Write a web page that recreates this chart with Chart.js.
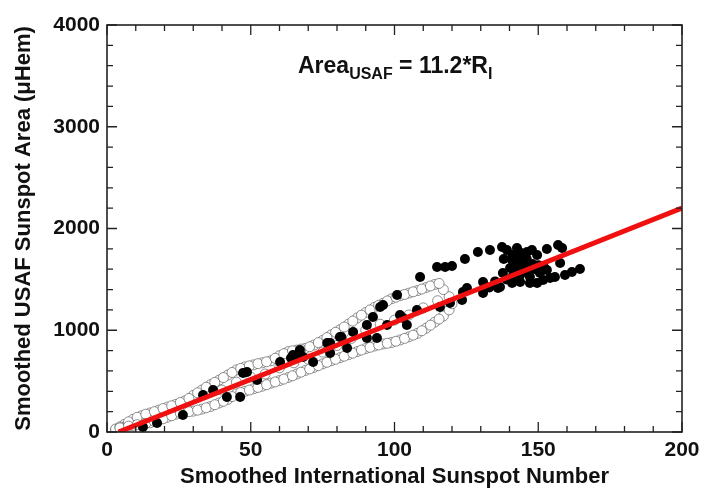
<!DOCTYPE html>
<html><head><meta charset="utf-8">
<script src="https://cdn.jsdelivr.net/npm/chart.js@4.4.1/dist/chart.umd.min.js"></script>
<style>html,body{margin:0;padding:0;background:#fff}#wrap{width:702px;height:491px}</style>
</head><body><div id="wrap"><canvas id="c" width="702" height="491"></canvas></div>
<script>
// Open circles (upper track, lower track, middle, extra upper, extra lower)
const openX = [3,6,9,12,15,18,21,24,27,30,33,36,39,42,45,48,51,54,57,60,63,66,69,72,75,78,81,84,87,90,93,96,99,102,105,108,111,114,
  3,6,9,12,15,18,21,24,27,30,33,36,39,42,45,48,51,54,57,60,63,66,69,72,75,78,81,84,87,90,93,96,99,102,105,108,111,114,117,119,120,119,117,
  40,45,50,55,60,65,70,75,80,85,90,95,100,105,110,115,
  4.5,7.5,10.5,13.5,16.5,19.5,22.5,25.5,28.5,31.5,34.5,37.5,40.5,43.5,46.5,49.5,52.5,55.5,58.5,61.5,64.5,67.5,70.5,73.5,76.5,79.5,82.5,85.5,88.5,91.5,94.5,97.5,100.5,103.5,106.5,109.5,112.5,115.5,
  4.5,7.5,10.5,13.5,16.5,19.5,22.5,25.5,28.5,31.5,34.5,37.5,40.5,43.5,46.5,49.5,52.5,55.5,58.5,61.5,64.5,67.5,70.5,73.5,76.5,79.5,82.5,85.5,88.5,91.5,94.5,97.5,100.5,103.5,106.5,109.5,112.5,115.5];
const openY = [22,75,125,160,187,215,245,272,305,360,412,465,510,560,610,640,660,680,700,750,790,805,822,855,900,955,1005,1060,1120,1175,1225,1265,1310,1340,1365,1390,1420,1450,
  30,50,65,78,90,115,145,175,195,205,225,250,285,320,375,400,425,450,480,505,535,570,605,635,670,700,730,760,790,820,845,865,880,905,935,970,1020,1080,1140,1200,1260,1330,1400,
  412,490,540,570,630,680,715,785,850,920,1000,1060,1100,1150,1220,1290,
  50,100,145,175,200,230,258,290,330,385,440,488,535,585,625,650,672,690,725,770,798,815,838,878,928,980,1032,1090,1148,1200,1245,1288,1325,1352,1378,1405,1435,1460,
  40,58,72,84,102,130,160,185,200,215,238,268,302,348,388,412,438,465,492,520,552,588,620,652,685,715,745,775,805,832,855,872,892,920,952,995,1050,1110];
// Filled circles
const filledX = [12.5,17.4,26.4,33.4,36.9,41.7,46.3,47.3,48.7,52.2,60.2,64.7,67.1,71.7,68.2,77.6,77.6,81.0,83.5,85.6,90.4,90.4,93.9,92.5,95.0,100.9,97.4,96.0,101.9,103.0,104.3,107.8,108.9,114.8,117.6,120.0,124.5,129.0,133.2,137.4,139.1,142.6,146.1,147.8,149.6,153.0,156.9,158.3,140.9,141.9,143.7,145.4,140.2,143.7,147.1,157.6,137.7,140.9,143.7,147.1,150.6,153.0,155.8,159.3,161.7,164.5,140.9,143.7,147.1,149.6,151.7,154.1,125.2,130.8,130.8,136.7,123.5,123.8,115.8,119.3,136.0,81.5,76.6,65.5,64.0,
  138,141,144,146,148,150,152,142,145,149,135,139,133];
const filledY = [49,88,167,364,413,344,344,580,590,511,688,757,806,688,737,777,875,934,826,983,1052,924,924,1130,1229,1347,1052,1248,1150,1121,1052,1199,1524,1622,1622,1632,1701,1769,1789,1819,1789,1809,1769,1789,1740,1799,1838,1809,1691,1661,1710,1671,1612,1622,1612,1661,1563,1524,1543,1524,1563,1592,1524,1543,1573,1602,1465,1475,1465,1465,1494,1514,1416,1475,1366,1425,1298,1376,1229,1268,1416,934,875,737,727,
  1700,1740,1760,1700,1650,1640,1620,1590,1580,1600,1480,1500,1420];
// Fit line Area = 11.2*R
const fitX = [4, 200];
const fitY = [0, 2200];
// Axis ticks
const xTickValues = [0, 50, 100, 150, 200];
const yTickValues = [0, 1000, 2000, 3000, 4000];
const xMinorStep = 10;
const yMinorStep = 200;

const toPts = (xs, ys) => xs.map((x, i) => ({x, y: ys[i]}));
const FONT = "'Liberation Sans', Arial, Helvetica, sans-serif";
Chart.defaults.font.family = FONT;
Chart.defaults.color = '#111';

const framePlugin = {
  id: 'frame',
  afterDraw(chart) {
    const {ctx, chartArea: a, scales: {x, y}} = chart;
    ctx.save();
    ctx.strokeStyle = '#222';
    ctx.lineWidth = 1.6;
    ctx.strokeRect(a.left, a.top, a.right - a.left, a.bottom - a.top);
    ctx.lineWidth = 1.3;
    ctx.beginPath();
    for (let v = x.min; v <= x.max + 1e-6; v += xMinorStep) {
      const px = x.getPixelForValue(v);
      const L = xTickValues.includes(v) ? 10 : 6;
      ctx.moveTo(px, a.bottom); ctx.lineTo(px, a.bottom - L);
      ctx.moveTo(px, a.top); ctx.lineTo(px, a.top + L);
    }
    for (let v = y.min; v <= y.max + 1e-6; v += yMinorStep) {
      const py = y.getPixelForValue(v);
      const L = yTickValues.includes(v) ? 10 : 6;
      ctx.moveTo(a.left, py); ctx.lineTo(a.left + L, py);
      ctx.moveTo(a.right, py); ctx.lineTo(a.right - L, py);
    }
    ctx.stroke();
    // annotation
    ctx.fillStyle = '#111';
    ctx.textBaseline = 'alphabetic';
    ctx.textAlign = 'left';
    let cx = a.left + 191, by = a.top + 48;
    const big = 'bold 23px ' + FONT, small = 'bold 16px ' + FONT;
    const parts = [['Area', big, 0], ['USAF', small, 6], [' = 11.2*R', big, 0], ['I', small, 6]];
    for (const [t, f, dy] of parts) {
      ctx.font = f;
      ctx.fillText(t, cx, by + dy);
      cx += ctx.measureText(t).width;
    }
    ctx.restore();
  }
};

new Chart(document.getElementById('c'), {
  type: 'scatter',
  data: {
    datasets: [
      { type: 'line', data: toPts(fitX, fitY), borderColor: '#f01010', borderWidth: 5, pointRadius: 0, order: 0, fill: false },
      { data: toPts(filledX, filledY), backgroundColor: '#000', borderColor: '#000', borderWidth: 0, pointRadius: 5, order: 1 },
      { data: toPts(openX, openY), backgroundColor: '#fff', borderColor: '#444', borderWidth: 0.6, pointRadius: 5, order: 2 }
    ]
  },
  options: {
    responsive: false,
    animation: false,
    events: [],
    layout: { padding: { left: 0, right: 0, top: 25, bottom: 0 } },
    plugins: { legend: { display: false }, tooltip: { enabled: false } },
    scales: {
      x: {
        type: 'linear', min: 0, max: 200,
        grid: { display: false, drawTicks: false },
        border: { display: false },
        ticks: { stepSize: 50, padding: 6, maxRotation: 0, font: { size: 21, weight: 'bold' }, color: '#111', callback: v => String(v) },
        title: { display: true, text: 'Smoothed International Sunspot Number', font: { size: 22, weight: 'bold', lineHeight: 1 }, color: '#111', padding: { top: 0, bottom: 3 } },
        afterFit(s) { s.height = 59; s.paddingRight = 20; s.paddingLeft = 0; }
      },
      y: {
        type: 'linear', min: 0, max: 4000,
        grid: { display: false, drawTicks: false },
        border: { display: false },
        ticks: { stepSize: 1000, padding: 7, font: { size: 21, weight: 'bold' }, color: '#111', callback: v => String(v) },
        title: { display: true, text: 'Smoothed USAF Sunspot Area (μHem)', font: { size: 22, weight: 'bold', lineHeight: 1 }, color: '#111', padding: { top: 13, bottom: 0 } },
        afterFit(s) { s.width = 107; s.paddingTop = 0; s.paddingBottom = 0; }
      }
    }
  },
  plugins: [framePlugin]
});
</script></body></html>
